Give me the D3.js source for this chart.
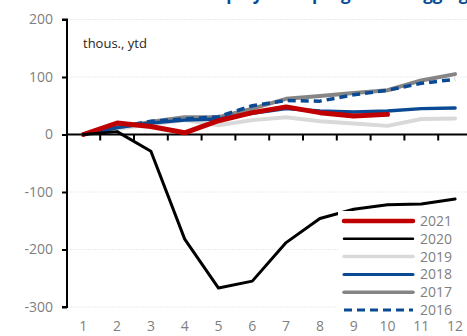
<!DOCTYPE html>
<html><head><meta charset="utf-8">
<script src="https://cdn.jsdelivr.net/npm/d3@7"></script>
<style>
body{margin:0;background:#fff;}
svg{display:block;font-family:"Open Sans",sans-serif;}
</style></head>
<body><svg id="c" width="467" height="336"></svg>
<script>
const months = ["1","2","3","4","5","6","7","8","9","10","11","12"];
const yTicks = [-300,-200,-100,0,100,200];
const s2021 = [0,20,14,3,24,38,48,38,32,35];
const s2020 = [0,5,-29,-182,-267,-255,-188,-146,-130,-122,-121,-112];
const s2019 = [0,10,18,25,16,25,30,23,19,15,27,28];
const s2018 = [0,12,20,25,27,37,45,41,39,41,45,46];
const s2017 = [0,12,22,30,30,45,62,67,72,77,94,105];
const s2016 = [0,13,23,27,31,50,59,58,69,77,89,96];
const seriesNames = ["2021","2020","2019","2018","2017","2016"];

const series = [
  {name:"2019", vals:s2019, color:"#d9d9d9", w:4, dash:null},
  {name:"2017", vals:s2017, color:"#858585", w:4, dash:null},
  {name:"2018", vals:s2018, color:"#0a4a95", w:3.5, dash:null},
  {name:"2016", vals:s2016, color:"#0a4a95", w:3.5, dash:"8,5"},
  {name:"2021", vals:s2021, color:"#c00000", w:5, dash:null},
  {name:"2020", vals:s2020, color:"#000000", w:3, dash:null}
];
const legendStyle = {
  "2021":{color:"#c00000", w:5, dash:null},
  "2020":{color:"#000000", w:3, dash:null},
  "2019":{color:"#d9d9d9", w:4, dash:null},
  "2018":{color:"#0a4a95", w:3.5, dash:null},
  "2017":{color:"#858585", w:4, dash:null},
  "2016":{color:"#0a4a95", w:3.5, dash:"8,5"}
};

const svg = d3.select("#c");
const x = d3.scaleBand().domain(months).range([66.4, 472]);
const y = d3.scaleLinear().domain([-300,200]).range([307, 19.5]);
const cx = m => x(m) + x.bandwidth()/2;

// title (cut off at top, only descenders visible as in the reference)
svg.append("text").attr("x", 200).attr("y", 0)
  .attr("font-size", 17).attr("font-weight", "bold").attr("fill", "#0a4a95")
  .text("Employment progress is lagging in 2021");

// gridlines
svg.append("g").selectAll("line").data(yTicks.filter(d=>d!==0)).join("line")
  .attr("x1", 67).attr("x2", 467).attr("y1", d=>y(d)).attr("y2", d=>y(d))
  .attr("stroke", "#ececec").attr("stroke-width", 1).attr("stroke-dasharray","2,1");

// y axis
const ya = svg.append("g").attr("transform", "translate(67,0)")
  .call(d3.axisLeft(y).tickValues(yTicks).tickSize(5).tickPadding(9).tickFormat(d3.format("d")));
ya.select(".domain").attr("stroke", "#000").attr("stroke-width", 2).attr("d", `M-5,${y(200)}H0V${y(-300)}H-5`);
ya.selectAll(".tick line").attr("stroke", "#000").attr("stroke-width", 2);
ya.selectAll(".tick text").attr("fill", "#7f7f7f").attr("font-size", 14)
  .attr("font-family", "Open Sans, sans-serif");
ya.selectAll(".tick").filter(d=>d<0).select("text").text(d=>"-" + Math.abs(d));

// x axis at zero
const xa = svg.append("g").attr("transform", `translate(0,${y(0)})`)
  .call(d3.axisBottom(x).tickSize(0).tickFormat(""));
xa.select(".domain").attr("stroke", "#000").attr("stroke-width", 2).attr("d", `M67,0H467`);
xa.selectAll(".tick").remove();
xa.selectAll("line.bt").data(months.slice(1)).join("line").attr("class","bt")
  .attr("x1", d=>x(d)).attr("x2", d=>x(d)).attr("y1", 0).attr("y2", 6)
  .attr("stroke", "#000").attr("stroke-width", 2);

// x labels at bottom
svg.append("g").selectAll("text").data(months).join("text")
  .attr("x", d=>cx(d)).attr("y", 331).attr("text-anchor", "middle")
  .attr("fill", "#7f7f7f").attr("font-size", 14).text(d=>d);

// unit label
svg.append("text").attr("x", 83).attr("y", 48).attr("font-size", 13)
  .attr("fill", "#262626").text("thous., ytd");

// lines
const line = d3.line().x((d,i)=>cx(months[i])).y(d=>y(d));
svg.append("g").selectAll("path").data(series).join("path")
  .attr("d", d=>line(d.vals)).attr("fill", "none")
  .attr("stroke", d=>d.color).attr("stroke-width", d=>d.w)
  .attr("stroke-dasharray", d=>d.dash).attr("stroke-linejoin", "round")
  .attr("stroke-linecap", d=>d.dash ? "butt" : "round");

// legend
const lg = svg.append("g");
lg.append("rect").attr("x", 338).attr("y", 211).attr("width", 129).attr("height", 108).attr("fill", "#fff");
const ly = d3.scalePoint().domain(seriesNames).range([221, 310]);
lg.selectAll("line").data(seriesNames).join("line")
  .attr("x1", 344).attr("x2", 413).attr("y1", d=>ly(d)).attr("y2", d=>ly(d))
  .attr("stroke", d=>legendStyle[d].color).attr("stroke-width", d=>legendStyle[d].w - 0.5)
  .attr("stroke-dasharray", d=>legendStyle[d].dash)
  .attr("stroke-linecap", d=>legendStyle[d].dash ? "butt" : "round");
lg.selectAll("text").data(seriesNames).join("text")
  .attr("x", 420).attr("y", d=>ly(d)+5).attr("font-size", 14).attr("fill", "#7f7f7f").text(d=>d);
</script></body></html>
